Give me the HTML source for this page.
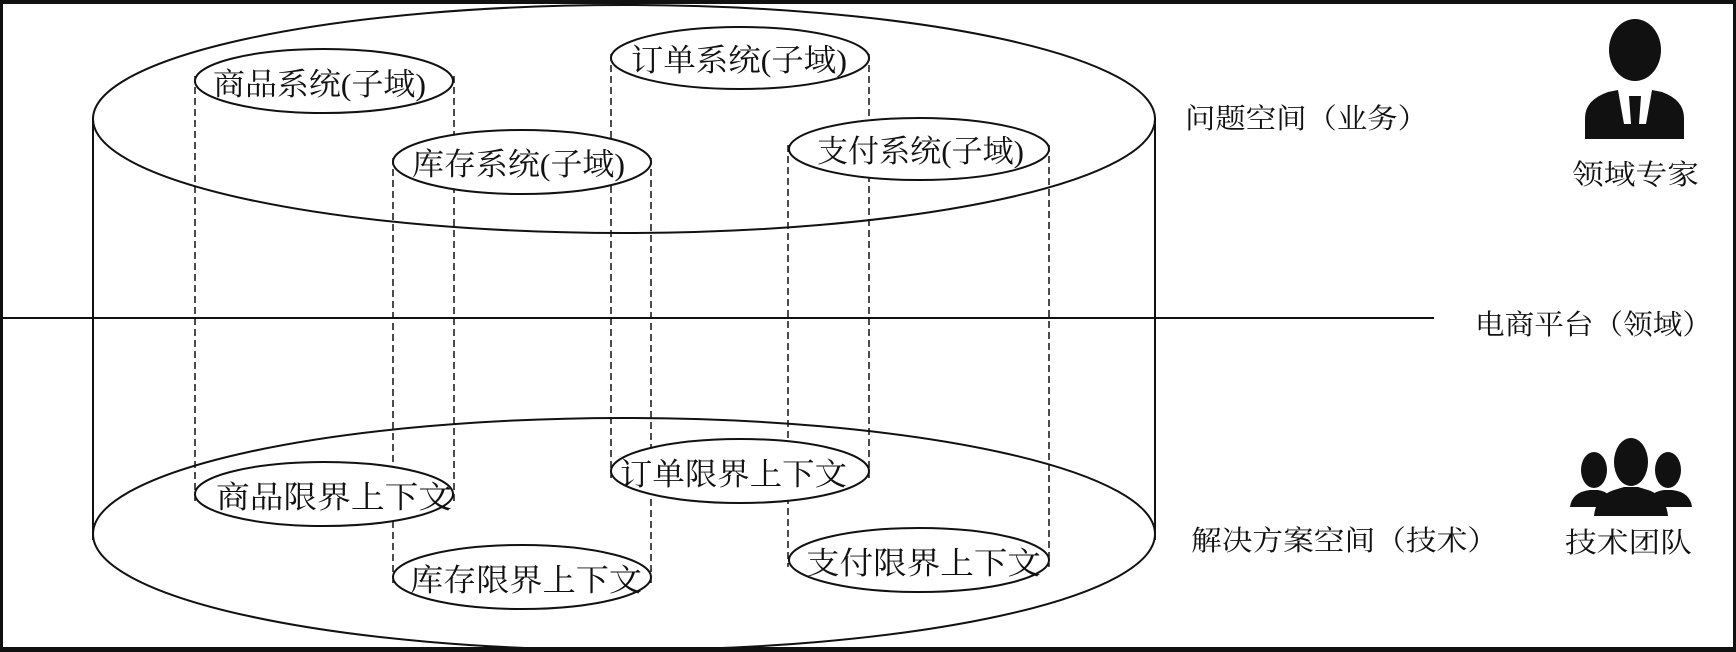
<!DOCTYPE html>
<html><head><meta charset="utf-8"><style>
html,body{margin:0;padding:0;background:#111;}
svg{display:block;}
text{font-family:"Liberation Serif","Noto Serif CJK SC",serif;fill:#111;}
</style></head><body>
<svg width="1736" height="652" viewBox="0 0 1736 652" xmlns="http://www.w3.org/2000/svg">
<rect x="0" y="0" width="1736" height="652" fill="#111"/>
<rect x="3" y="4" width="1730" height="643" fill="#fff"/>
<g fill="none" stroke="#111" stroke-width="2">
  <ellipse cx="624" cy="119" rx="531" ry="114"/>
  <ellipse cx="624" cy="534" rx="531" ry="116"/>
  <line x1="93" y1="117" x2="93" y2="540"/>
  <line x1="1155" y1="117" x2="1155" y2="540"/>
  <line x1="0" y1="318" x2="1434" y2="318"/>
</g>
<g stroke="#111" stroke-width="1.5" stroke-dasharray="7,4">
  <line x1="195" y1="76" x2="195" y2="503"/><line x1="454" y1="76" x2="454" y2="503"/>
  <line x1="611" y1="54" x2="611" y2="478"/><line x1="869" y1="54" x2="869" y2="478"/>
  <line x1="393" y1="158" x2="393" y2="584"/><line x1="651" y1="158" x2="651" y2="584"/>
  <line x1="788" y1="145" x2="788" y2="567"/><line x1="1049" y1="145" x2="1049" y2="567"/>
</g>
<g fill="#fff" stroke="#111" stroke-width="2">
  <ellipse cx="324" cy="81" rx="129" ry="32"/>
  <ellipse cx="740" cy="58" rx="129" ry="31"/>
  <ellipse cx="522" cy="162" rx="129" ry="32"/>
  <ellipse cx="919" cy="149" rx="130" ry="31"/>
  <ellipse cx="324" cy="494" rx="129" ry="32"/>
  <ellipse cx="740" cy="471" rx="129" ry="32"/>
  <ellipse cx="522" cy="577" rx="129" ry="32"/>
  <ellipse cx="919" cy="560" rx="130" ry="32"/>
</g>
<g font-size="31">
  <text x="213" y="95" textLength="213" lengthAdjust="spacingAndGlyphs">商品系统(子域)</text>
  <text x="631" y="71" textLength="216" lengthAdjust="spacingAndGlyphs">订单系统(子域)</text>
  <text x="412" y="175" textLength="213" lengthAdjust="spacingAndGlyphs">库存系统(子域)</text>
  <text x="817" y="162" textLength="207" lengthAdjust="spacingAndGlyphs">支付系统(子域)</text>
  <text x="216" y="508" textLength="236" lengthAdjust="spacingAndGlyphs">商品限界上下文</text>
  <text x="620" y="485" textLength="227" lengthAdjust="spacingAndGlyphs">订单限界上下文</text>
  <text x="410" y="591" textLength="232" lengthAdjust="spacingAndGlyphs">库存限界上下文</text>
  <text x="806" y="574" textLength="235" lengthAdjust="spacingAndGlyphs">支付限界上下文</text>
  <text x="1185" y="128" font-size="28" textLength="243" lengthAdjust="spacingAndGlyphs">问题空间（业务）</text>
  <text x="1475" y="334" font-size="28" textLength="237" lengthAdjust="spacingAndGlyphs">电商平台（领域）</text>
  <text x="1191" y="550" font-size="28" textLength="307" lengthAdjust="spacingAndGlyphs">解决方案空间（技术）</text>
  <text x="1572" y="184" font-size="28" textLength="127" lengthAdjust="spacingAndGlyphs">领域专家</text>
  <text x="1565" y="552" font-size="28" textLength="127" lengthAdjust="spacingAndGlyphs">技术团队</text>
</g>
<g fill="#111">
  <ellipse cx="1635" cy="50" rx="26" ry="31"/>
  <path d="M1585 139 L1585 118 Q1585 100 1608 92 L1618 90 L1624 124 L1631 124 L1629 96 L1641 96 L1639 124 L1646 124 L1652 90 L1662 92 Q1684 100 1684 118 L1684 139 Z"/>
</g>
<g fill="#111">
  <ellipse cx="1594" cy="470" rx="13" ry="18"/>
  <path d="M1570 507 Q1572 492 1590 490 L1598 490 Q1612 492 1614 507 Z"/>
  <ellipse cx="1668" cy="470" rx="13" ry="18"/>
  <path d="M1646 507 Q1648 492 1664 490 L1672 490 Q1690 492 1692 507 Z"/>
  <ellipse cx="1631" cy="462" rx="17" ry="24"/>
  <path d="M1594 516 Q1596 496 1614 490 L1624 487 L1638 487 L1648 490 Q1666 496 1668 516 Z"/>
</g>
</svg>
</body></html>
